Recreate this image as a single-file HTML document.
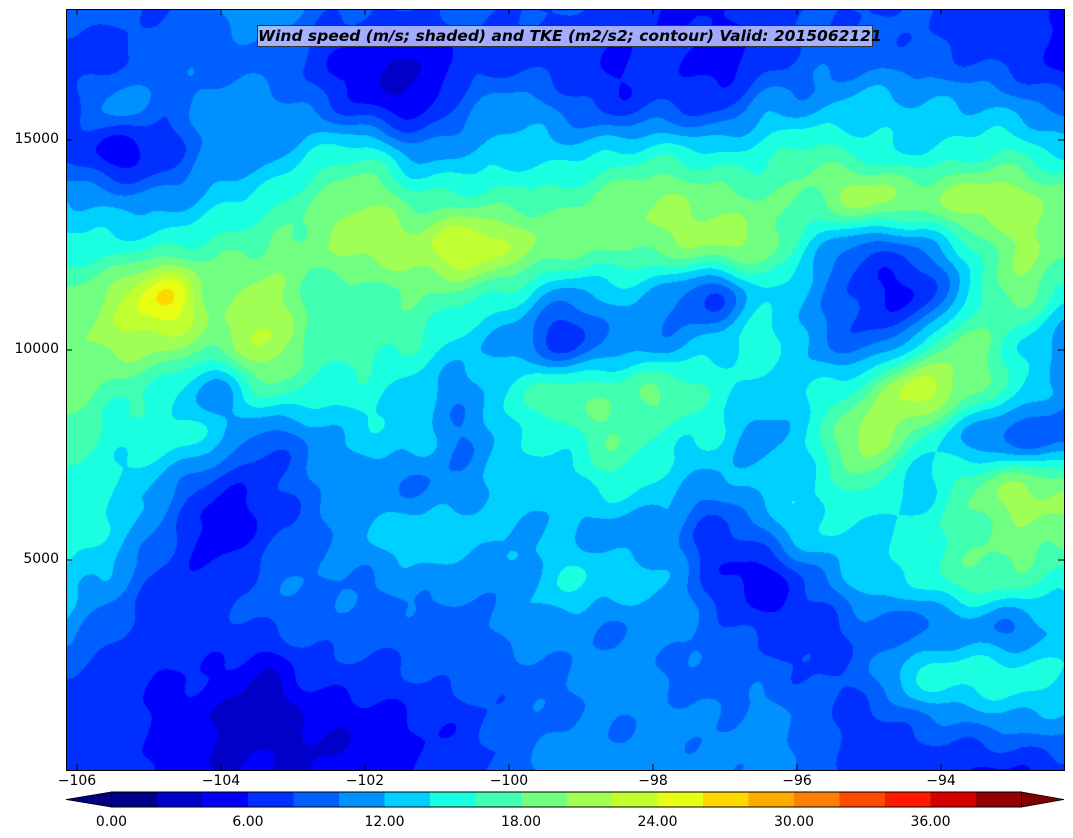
<!DOCTYPE html>
<html><head><meta charset="utf-8"><style>
body{margin:0;background:#fff;width:1073px;height:838px;overflow:hidden;position:relative;font-family:"DejaVu Sans","Liberation Sans",sans-serif;}
canvas{position:absolute;left:66px;top:9px;}
.t{position:absolute;font-size:14px;color:#000;}
#frame{position:absolute;left:66px;top:9px;width:997px;height:760px;border:1px solid #000;}
</style></head><body>
<canvas id="c" width="998" height="761"></canvas>
<div id="frame"></div>
<svg width="1073" height="838" style="position:absolute;left:0;top:0" id="s"></svg>
<div style="position:absolute;left:257px;top:25px;width:614px;height:20px;background:rgba(190,195,255,0.85);border:1px solid #333;font-weight:bold;font-style:italic;font-size:15.5px;line-height:20px;text-align:center;white-space:nowrap;font-family:'DejaVu Sans',sans-serif;">Wind speed (m/s; shaded) and TKE (m2/s2; contour) Valid: 2015062121</div>
<div class="t" style="left:0;width:59px;text-align:right;top:131px">15000</div>
<div class="t" style="left:0;width:59px;text-align:right;top:341px">10000</div>
<div class="t" style="left:0;width:59px;text-align:right;top:551px">5000</div>
<script>
var G=[
[3.5,4,3.5,4.5,5.5,4,3.5,3.5,4,3.5,3.5,3,2.5,2.5,3,3.5,3.5,3.5,3,3,2.5],
[3,3,4,4,4,3,2,1.5,3,3,3,2.5,3,2,3,4,4,4,3.5,3,2],
[3,5,4,5,5,4,2.5,2,4,5,4,3,3.5,3,5,5,6,5.5,5.5,5,4],
[3.5,2,3,5,5,6.5,7,5,5.5,6,6,6.5,7,6.5,7,8,7,6.5,7,7.5,6],
[5.5,5,5,6,7,8.5,9.5,8,8,8,8,9,9.5,9,8.5,8.5,10,9,10,10,9],
[7,7,7.5,8,8.5,9,10,10,11.5,10,9,8.5,9,9.5,9,6,4,4.5,7,9.5,9],
[8.5,10,12.5,9,10,8,8,8.5,8,7,5,6,5,3.5,6.5,5,3,2.5,6,9,7],
[9,10,10,9,10.5,8,8,7.5,6,5,3,5,5,6,7,5,4,6,9,7,5],
[9,8,7,5,8,7,7,6,5,7,8,8,8.5,7,6,6.5,8,11,9,7,5],
[8,7,7,6,4,5,6,6,4.5,6.5,7,8.5,7,6.5,5,7,10,8,5.5,4,4],
[7.5,6.5,5,3,3,4.5,5,4.5,5,6,6,7,6,5,6,6.5,8,6,8,9.5,9],
[7,6,4,2,3,4,5.5,6,6,5.5,5.5,5,5,3,4.5,6.5,6,7,8,9,9],
[6,5,3,3,4,4.5,4.5,5,5,5,6.5,6,5.5,3,2,4,6,6.5,8,8,7],
[5,3.5,3,3,3.5,4,4,4,4,5,5,4.5,5,4,3,3,4,4,5,4.5,6],
[3.5,3,2.5,2.5,1.5,3,3,3.5,4,4,4.5,5,4.5,4,4,3.5,4,6.5,7,7,6.5],
[3,3,2,1.5,1,1.5,2,2.5,3,4,4.5,4.5,5,4.5,5,4,3,4,4.5,5,5],
[3,3,2,1.5,1.5,1.5,2,2.5,3,4,5,5,5,4.5,5,4,3,3,2.5,2.5,3]];
var C=["#00008a","#0000c8","#0000ff","#0030ff","#0060ff","#0090ff","#00d0ff","#1affe0","#40ffb0","#70ff80","#a0ff55","#c0ff30","#e8ff15","#ffd800","#ffaa00","#ff7f00","#ff4a00","#ff1a00","#d40000","#940000"];
function hx(h){return[parseInt(h.substr(1,2),16),parseInt(h.substr(3,2),16),parseInt(h.substr(5,2),16)];}
var CR=C.map(hx);
function cr(p0,p1,p2,p3,t){return 0.5*((2*p1)+(-p0+p2)*t+(2*p0-5*p1+4*p2-p3)*t*t+(-p0+3*p1-3*p2+p3)*t*t*t);}
function g(j,i){j=Math.max(0,Math.min(16,j));i=Math.max(0,Math.min(20,i));return G[j][i];}
var cv=document.getElementById('c'),ctx=cv.getContext('2d'),W=998,H=761;
var im=ctx.createImageData(W,H),d=im.data;
for(var y=0;y<H;y++){var fy=y/H*16,j=Math.floor(fy),ty=fy-j;
for(var x=0;x<W;x++){var fx=x/W*20,i=Math.floor(fx),tx=fx-i;
var r=[];for(var k=-1;k<3;k++)r.push(cr(g(j+k,i-1),g(j+k,i),g(j+k,i+1),g(j+k,i+2),tx));
var v=cr(r[0],r[1],r[2],r[3],ty)+0.5;
v+=0.35*Math.sin(x*0.09+y*0.05)*Math.sin(y*0.07-x*0.02);
var b=Math.max(0,Math.min(19,Math.floor(v)));var c=CR[b];var o=(y*W+x)*4;
d[o]=c[0];d[o+1]=c[1];d[o+2]=c[2];d[o+3]=255;}}
ctx.putImageData(im,0,0);
var s='',F='font-family="DejaVu Sans, Liberation Sans, sans-serif"';
for(var k=-106;k<=-94;k+=2){var X=77+(k+106)*72;s+='<line x1="'+X+'" y1="770" x2="'+X+'" y2="764" stroke="#000"/><line x1="'+X+'" y1="9" x2="'+X+'" y2="15" stroke="#000"/>';
s+='<text x="'+X+'" y="785" font-size="14" text-anchor="middle" '+F+'>\u2212'+(-k)+'</text>';}
[140,350,560].forEach(function(Y){s+='<line x1="66" y1="'+Y+'" x2="72" y2="'+Y+'" stroke="#000"/><line x1="1064" y1="'+Y+'" x2="1058" y2="'+Y+'" stroke="#000"/>';});
var x0=111.5,bw=45.5;
s+='<polygon points="66,799.5 '+x0+',792 '+x0+',807" fill="#000080" stroke="#000" stroke-width="0.8"/>';
for(var b=0;b<20;b++){s+='<rect x="'+(x0+b*bw)+'" y="792" width="'+(bw+0.6)+'" height="15" fill="'+C[b]+'"/>';}
var xe=x0+20*bw;
s+='<polygon points="'+xe+',792 1064,799.5 '+xe+',807" fill="#800000" stroke="#000" stroke-width="0.8"/>';
s+='<rect x="'+x0+'" y="792" width="'+(xe-x0)+'" height="15" fill="none" stroke="#000"/>';
for(var b=0;b<7;b++){var X=x0+b*3*bw;s+='<text x="'+X+'" y="826" font-size="14" text-anchor="middle" '+F+'>'+(b*6).toFixed(2)+'</text>';}
document.getElementById('s').innerHTML=s;
</script>
</body></html>
